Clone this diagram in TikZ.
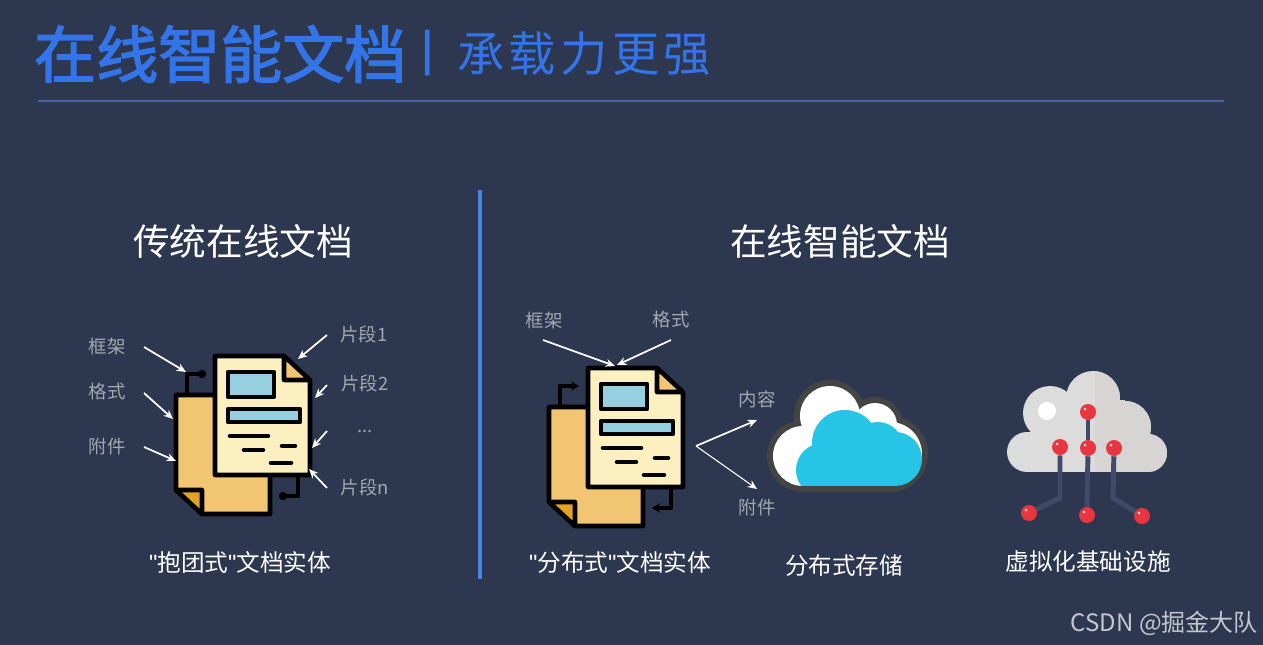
\documentclass[tikz,border=0pt]{standalone}
\usepackage{fontspec}
\setmainfont{Noto Sans CJK SC}
\newfontfamily\spacedfont[LetterSpace=9]{Noto Sans CJK SC}
\newfontfamily\quotefont{Liberation Sans}
\newfontfamily\titlefont[FakeBold=2.4]{Noto Sans CJK SC}
\usepackage{xcolor}
\usetikzlibrary{arrows.meta,positioning,calc}
\definecolor{bgnavy}{HTML}{2D3750}
\definecolor{titleblue}{HTML}{3375E8}
\definecolor{rulecol}{HTML}{4A63A0}
\definecolor{greylabel}{HTML}{A0A9AE}
\definecolor{sheetback}{HTML}{F2C572}
\definecolor{sheetfold}{HTML}{E2A227}
\definecolor{sheetfront}{HTML}{FDF0C0}
\definecolor{panelblue}{HTML}{96CFDF}
\definecolor{cloudblue}{HTML}{26C5E7}
\definecolor{cloudedge}{HTML}{444444}
\definecolor{cloudgrey}{HTML}{DCDCDC}
\definecolor{cloudshade}{HTML}{D6D5D3}
\definecolor{wirecol}{HTML}{404A6B}
\definecolor{ballred}{HTML}{E8353F}
\newcommand{\serverlobes}[1]{%
  \fill[#1] (1027,452) circle (20);
  \fill[#1] (1050,413) circle (27);
  \fill[#1] (1093,398) circle (27);
  \fill[#1] (1125,427) circle (26);
  \fill[#1] (1148,453) circle (19);
  \fill[#1] (1050,400) rectangle (1125,472);
  \fill[#1] (1027,432) rectangle (1148,472);}
\newcommand{\storelobes}[2]{%
  \fill[#1] (803,456) circle (30+#2);
  \fill[#1] (830,416) circle (30+#2);
  \fill[#1] (875,425) circle (22+#2);
  \fill[#1] (890,454) circle (32+#2);
  \fill[#1] (825,425) rectangle (880,486+#2);
  \fill[#1] (803,440) rectangle (890,486+#2);}
\newcommand{\qt}{{\quotefont"}}
\begin{document}
\begin{tikzpicture}[
    x=0.75pt, y=-0.75pt,
    lbl/.style={text=greylabel, font=\fontsize{13.8}{16}\selectfont, inner sep=0pt},
    caption/.style={text=white, font=\fontsize{17.7}{22}\selectfont, inner sep=0pt},
    heading/.style={text=white, font=\fontsize{27.5}{32}\selectfont, inner sep=0pt},
    arr/.style={-{Stealth[length=7pt,width=6pt]}, line width=1.3pt, white},
    ball/.style={circle, fill=ballred, minimum size=12pt, inner sep=0pt,
      path picture={\fill[white!85!ballred] (path picture bounding box.center)++(-2.2pt,2.2pt) circle (1.1pt);}},
    wire/.style={wirecol, line width=3.7pt},
    ink/.style={line width=3.4pt, black, line join=round, line cap=round},
    docicon/.pic={
      \draw[ink, -{#1}] (11,37) -- (11,18) -- (30,18);
      \draw[ink, -{#1}] (122,121) -- (122,140) -- (103,140);
      \draw[ink, fill=sheetback] (0,39) -- (94,39) -- (94,158) -- (26,158) -- (0,134) -- cycle;
      \draw[ink, fill=sheetfold] (0,134) -- (26,134) -- (26,158) -- cycle;
      \draw[ink, fill=sheetfront] (39,0) -- (108,0) -- (134,25) -- (134,119) -- (39,119) -- cycle;
      \draw[ink, fill=sheetback] (108,0) -- (108,24) -- (134,24) -- cycle;
      \draw[ink, fill=panelblue] (52,16) rectangle (98,41);
      \draw[ink, fill=panelblue] (52,53) rectangle (124,66);
      \draw[ink] (54,80) -- (92,80);
      \draw[ink] (68,94) -- (87,94);
      \draw[ink] (106,90) -- (119,90);
      \draw[ink] (95,107) -- (115,107);
    }
]
\useasboundingbox (0,0) rectangle (1263,645);
\fill[bgnavy] (0,0) rectangle (1263,645);

% title
\node[anchor=west, inner sep=0pt, text=titleblue, font=\fontsize{46.5}{52}\titlefont\selectfont] (mainTitle) at (34,54) {在线智能文档};
\node[inner sep=0pt, text=titleblue, font=\fontsize{30}{36}\selectfont\bfseries] (titleBar) at (428,53) {|};
\node[anchor=west, inner sep=0pt, text=titleblue, font=\fontsize{35.5}{42}\spacedfont\selectfont] (subTitle) at (457,54) {承载力更强};
\coordinate (ruleL) at (38,101);
\coordinate (ruleR) at (1224,101);
\draw[rulecol, line width=0.8pt] (ruleL) -- (ruleR);
\coordinate (divTop) at (480,190);
\coordinate (divBot) at (480,579);
\draw[titleblue!90!white, line width=3pt] (divTop) -- (divBot);

\node[heading] (headOld) at (243,241) {传统在线文档};
\node[heading] (headNew) at (840,241) {在线智能文档};

% left side
\pic (docOld) at (176,356) {docicon={Circle[length=6pt]}};
\node[lbl] (oldFrame) at (107,346) {框架};
\node[lbl] (oldFormat) at (107,392) {格式};
\node[lbl] (oldAttach) at (107,447) {附件};
\node[lbl] (partOne) at (364,334) {片段1};
\node[lbl] (partTwo) at (365,383) {片段2};
\node[lbl] (partDots) at (365,431) {...};
\node[lbl] (partN) at (365,487) {片段n};
\node[caption] (capOld) at (240,562) {\qt 抱团式\qt 文档实体};

\coordinate (a1) at (144,347);  \coordinate (b1) at (186,372);
\coordinate (a2) at (144,393);  \coordinate (b2) at (173,419);
\coordinate (a3) at (144,447);  \coordinate (b3) at (176,461);
\coordinate (a4) at (327,335);  \coordinate (b4) at (298,359);
\coordinate (a5) at (327,385);  \coordinate (b5) at (315,398);
\coordinate (a6) at (327,431);  \coordinate (b6) at (312,448);
\coordinate (a7) at (327,488);  \coordinate (b7) at (309,469);
\draw[arr] (a1) -- (b1);
\draw[arr] (a2) -- (b2);
\draw[arr] (a3) -- (b3);
\draw[arr] (a4) -- (b4);
\draw[arr] (a5) -- (b5);
\draw[arr] (a6) -- (b6);
\draw[arr] (a7) -- (b7);

% right side
\pic (docNew) at (549,368) {docicon={Stealth[length=6pt,width=7pt]}};
\node[lbl] (newFrame) at (544,320) {框架};
\node[lbl] (newFormat) at (671,320) {格式};
\node[lbl] (newContent) at (757,399) {内容};
\node[lbl] (newAttach) at (757,508) {附件};
\node[caption] (capDist) at (620,562) {\qt 分布式\qt 文档实体};
\node[caption] (capStore) at (844,566) {分布式存储};
\node[caption] (capInfra) at (1088,562) {虚拟化基础设施};

\coordinate (c1) at (543,340);  \coordinate (d1) at (615,366);
\coordinate (c2) at (671,340);  \coordinate (d2) at (617,365);
\coordinate (fork) at (696,446);
\coordinate (d3) at (757,420);
\coordinate (d4) at (757,489);
\draw[arr] (c1) -- (d1);
\draw[arr] (c2) -- (d2);
\draw[arr] (fork) -- (d3);
\draw[arr, line width=0.8pt] (fork) -- (d4);

% storage cloud
\storelobes{cloudedge}{6}
\storelobes{white}{0}
\begin{scope}
\clip (780,400) rectangle (930,485);
\fill[cloudblue] (845,443) circle (33);
\fill[cloudblue] (878,447) circle (25);
\fill[cloudblue] (895,459) circle (27);
\fill[cloudblue] (823,470) circle (27);
\fill[cloudblue] (823,460) rectangle (895,486);
\end{scope}

% server cloud
\serverlobes{cloudgrey}
\begin{scope}
\clip (1095,360) rectangle (1180,480);
\serverlobes{cloudshade}
\end{scope}
\fill[white] (1047,411) circle (9);

\node[ball] (topBall) at (1088,412) {};
\node[ball] (midBall) at (1088,448) {};
\node[ball] (leftBall) at (1060,447) {};
\node[ball] (rightBall) at (1114,448) {};
\node[ball] (lowLeft) at (1029,513) {};
\node[ball] (lowMid) at (1087,515) {};
\node[ball] (lowRight) at (1142,516) {};
\coordinate (bendL) at (1060,498);
\coordinate (bendR) at (1113,498);
\draw[wire] (topBall) -- (midBall);
\draw[wire] (midBall) -- (lowMid);
\draw[wire] (leftBall) -- (bendL) -- (lowLeft);
\draw[wire] (rightBall) -- (bendR) -- (lowRight);

\node[inner sep=0pt, text=white!72!bgnavy, font=\fontsize{18}{22}\selectfont, anchor=east] (mark) at (1258,623) {CSDN @掘金大队};
\end{tikzpicture}
\end{document}
